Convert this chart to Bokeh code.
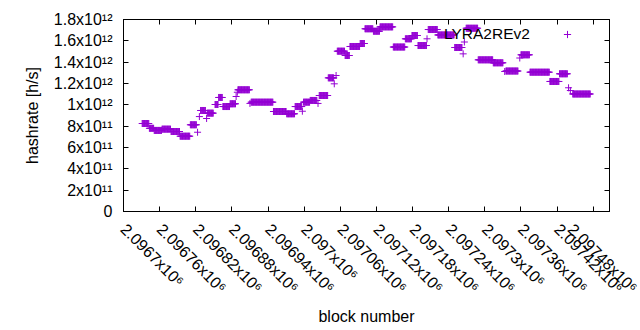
import math
import numpy as np
from bokeh.plotting import figure
from bokeh.models import (Range1d, FixedTicker, CustomJSTickFormatter, LinearAxis,
                          Legend, LegendItem, ColumnDataSource)
from bokeh.embed import file_html
from bokeh.resources import INLINE

series_name = "LYRA2REv2"

# runs of consecutive blocks at a (nearly) constant hashrate
run_start = [2096731, 2096743, 2096751, 2096764, 2096779, 2096794, 2096811, 2096828, 2096839,
             2096852, 2096858, 2096865, 2096877, 2096890, 2096912, 2096949, 2096971, 2096985,
             2096999, 2097010, 2097025, 2097040, 2097055, 2097068, 2097076, 2097093, 2097101,
             2097115, 2097126, 2097148, 2097168, 2097179, 2097189, 2097206, 2097222, 2097250,
             2097269, 2097289, 2097314, 2097335, 2097360, 2097375, 2097408, 2097424, 2097446]
run_end = [2096742, 2096750, 2096763, 2096778, 2096793, 2096810, 2096821, 2096836, 2096849,
           2096857, 2096864, 2096876, 2096886, 2096909, 2096948, 2096970, 2096984, 2096996,
           2097009, 2097021, 2097039, 2097049, 2097067, 2097075, 2097092, 2097100, 2097114,
           2097125, 2097147, 2097167, 2097178, 2097188, 2097203, 2097221, 2097249, 2097262,
           2097288, 2097313, 2097330, 2097355, 2097374, 2097407, 2097423, 2097437, 2097475]
run_rate = [8.25e11, 7.80e11, 7.60e11, 7.72e11, 7.50e11, 7.06e11, 8.13e11, 9.47e11, 9.22e11,
            1.003e12, 1.069e12, 9.84e11, 1.010e12, 1.141e12, 1.025e12, 9.375e11, 9.16e11, 9.84e11,
            1.025e12, 1.041e12, 1.0875e12, 1.253e12, 1.503e12, 1.4625e12, 1.547e12, 1.575e12, 1.713e12,
            1.690e12, 1.731e12, 1.542e12, 1.619e12, 1.650e12, 1.556e12, 1.706e12, 1.655e12, 1.5375e12,
            1.718e12, 1.422e12, 1.394e12, 1.317e12, 1.469e12, 1.306e12, 1.219e12, 1.291e12, 1.1016e12]

# isolated blocks
single_block = [2096823, 2096826, 2096838, 2096887, 2096889, 2096910, 2096997, 2097023, 2097050,
                2097053, 2097204, 2097264, 2097266, 2097333, 2097358, 2097439, 2097442]
single_rate = [7.43e11, 8.90e11, 8.72e11, 1.078e12, 1.118e12, 1.013e12, 9.40e11, 1.013e12, 1.197e12,
               1.275e12, 1.619e12, 1.478e12, 1.589e12, 1.3125e12, 1.439e12, 1.160e12, 1.134e12]

x_ticks = [2096700, 2096760, 2096820, 2096880, 2096940, 2097000, 2097060, 2097120,
           2097180, 2097240, 2097300, 2097360, 2097420, 2097480]
y_ticks = [0, 2e11, 4e11, 6e11, 8e11, 1e12, 1.2e12, 1.4e12, 1.6e12, 1.8e12]
x_lo, x_hi = 2096700, 2097507
y_lo, y_hi = 0, 1.8e12

# expand runs into one point per block
bx, by = [], []
for s, e, r in zip(run_start, run_end, run_rate):
    for b in range(s, e + 1):
        bx.append(b)
        by.append(r)
bx += single_block
by += single_rate
src = ColumnDataSource(dict(block=bx, rate=by))

FONT = "Liberation Sans"
FS = "16px"
COLOR = "#9400D3"

p = figure(frame_width=486, frame_height=192, output_backend="svg", toolbar_location=None,
           x_range=Range1d(x_lo, x_hi), y_range=Range1d(y_lo, y_hi),
           x_axis_location=None, y_axis_location=None,
           min_border_left=123, min_border_right=31, min_border_top=19, min_border_bottom=119)
p.grid.visible = False
p.outline_line_color = "black"
p.outline_line_width = 1
p.background_fill_color = "white"
p.border_fill_color = "white"

fmt = CustomJSTickFormatter(code="""
    if (tick == 0) return "0";
    const sup = {"0":"\u2070","1":"\u00b9","2":"\u00b2","3":"\u00b3","4":"\u2074",
                 "5":"\u2075","6":"\u2076","7":"\u2077","8":"\u2078","9":"\u2079","-":"\u207b"};
    let e = Math.floor(Math.log10(Math.abs(tick)) + 1e-9);
    let m = tick / Math.pow(10, e);
    m = parseFloat(m.toPrecision(6));
    if (Math.abs(m) >= 10) { m = m / 10; e += 1; }
    const es = String(e).split("").map(c => sup[c]).join("");
    return String(m) + "x10" + es;
""")
blank = CustomJSTickFormatter(code="return '';")

def style(ax):
    ax.axis_line_color = "black"
    ax.major_tick_line_color = "black"
    ax.major_tick_in = 5
    ax.major_tick_out = 0
    ax.minor_tick_line_color = None
    ax.major_label_text_font = FONT
    ax.major_label_text_font_size = FS
    ax.major_label_text_color = "black"
    ax.axis_label_text_font = FONT
    ax.axis_label_text_font_size = FS
    ax.axis_label_text_font_style = "normal"
    ax.axis_label_text_color = "black"

xb = LinearAxis(ticker=FixedTicker(ticks=x_ticks), formatter=fmt, axis_label="block number")
style(xb)
xb.major_label_orientation = -math.pi / 4
xb.major_label_standoff = 15
xb.axis_label_standoff = 3
p.add_layout(xb, "below")

yl = LinearAxis(ticker=FixedTicker(ticks=y_ticks), formatter=fmt, axis_label="hashrate [h/s]")
style(yl)
yl.major_label_standoff = 11
yl.axis_label_standoff = 10
p.add_layout(yl, "left")

xt = LinearAxis(ticker=FixedTicker(ticks=x_ticks), formatter=blank)
style(xt)
xt.major_label_standoff = 0
p.add_layout(xt, "above")

yr = LinearAxis(ticker=FixedTicker(ticks=y_ticks), formatter=blank)
style(yr)
yr.major_label_standoff = 0
p.add_layout(yr, "right")

pts = p.scatter("block", "rate", source=src, marker="cross", size=7,
                line_color=COLOR, line_width=1)

# key: text first, then the sample, like the original
dummy = p.scatter(x=[], y=[], marker="cross", size=1, line_alpha=0)
key_text = Legend(items=[LegendItem(label=series_name, renderers=[dummy])],
                  location=(320, 168), padding=0, margin=0, spacing=0,
                  glyph_width=1, glyph_height=18, label_height=18, label_standoff=0,
                  label_text_font=FONT, label_text_font_size="15.5px", label_text_color="black",
                  background_fill_alpha=0, border_line_alpha=0)
key_mark = Legend(items=[LegendItem(label=" ", renderers=[pts])],
                  location=(435, 168), padding=0, margin=0, spacing=0,
                  glyph_width=18, glyph_height=18, label_height=18, label_standoff=0,
                  label_text_font_size="1px",
                  background_fill_alpha=0, border_line_alpha=0)
p.add_layout(key_text)
p.add_layout(key_mark)

open("out.html", "w").write(file_html(p, INLINE))
